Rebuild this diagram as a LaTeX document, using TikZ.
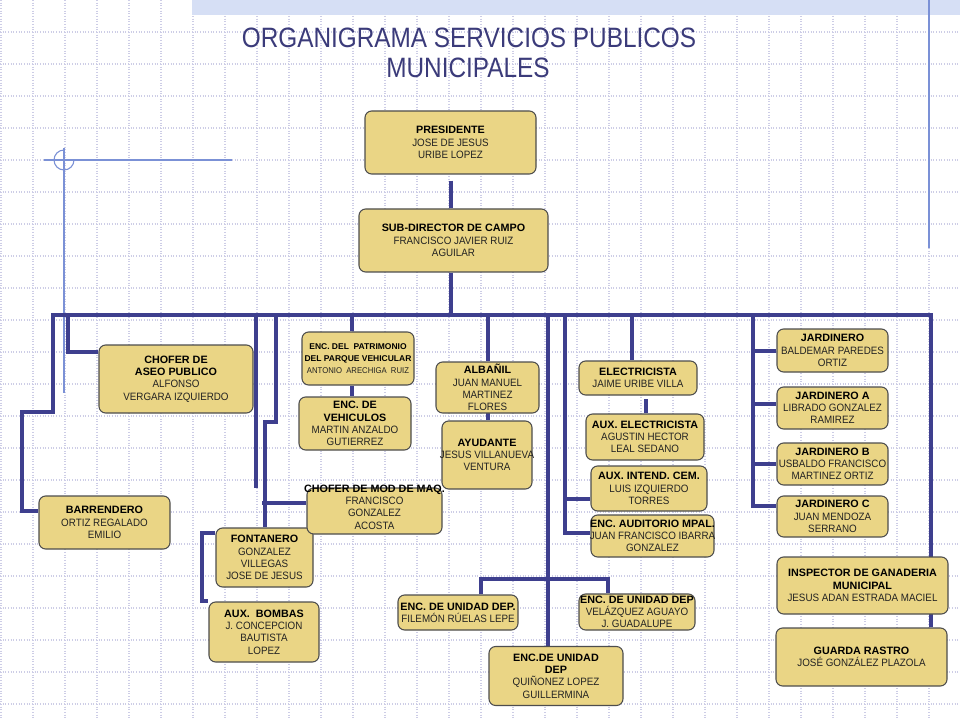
\documentclass[tikz,border=0pt]{standalone}
\usepackage{fontspec}
\usetikzlibrary{backgrounds}
\setmainfont{Liberation Sans}[FakeStretch=0.92]
\newfontfamily\titlefont{Liberation Sans}[FakeStretch=0.87]
\newfontfamily\bfam{Liberation Sans}[FakeStretch=1.01]
\definecolor{linec}{HTML}{3E3F8E}
\definecolor{boxfill}{HTML}{EAD585}
\definecolor{boxdraw}{HTML}{4D4D4D}
\definecolor{gridc}{HTML}{CDCDE6}
\definecolor{titlec}{HTML}{3B3B7A}
\definecolor{decoc}{HTML}{7B91D6}
\definecolor{bandc}{HTML}{D6DFF5}
\definecolor{namec}{HTML}{222222}
\tikzset{
  obox/.style={draw=boxdraw, line width=0.8pt, fill=boxfill, rounded corners=5pt, inner sep=0pt},
  otext/.style={align=center, inner sep=0pt, font=\fontsize{8}{9.2}\selectfont, text=namec},
  conn/.style={draw=linec, line width=3pt},
  gridline/.style={draw=gridc, line width=0.8pt, dash pattern=on 0.8pt off 1.2pt},
  deco/.style={draw=decoc, line width=0.8pt},
  ttl/.style={anchor=base, text=titlec, font=\titlefont\fontsize{21}{23}\selectfont, inner sep=0pt},
}
\newcommand{\obox}[6][0]{%
  \node[obox, minimum width=#4*0.75pt, minimum height=#5*0.75pt] (#2) at (#3) {};
  \node[otext, yshift=-#1*0.75pt] (#2-t) at (#2.center) {#6};}
\newcommand{\hb}[1]{{\bfam\bfseries\color{black}#1}}
\newcommand{\smtxt}[1]{\makebox[80pt]{\fontsize{6.3}{8.6}\selectfont #1}}
\begin{document}
\begin{tikzpicture}[x=0.75pt, y=-0.75pt]
\useasboundingbox (0,0) rectangle (960,720);
% title
\node[ttl] (title1) at (469,48) {ORGANIGRAMA SERVICIOS PUBLICOS};
\node[ttl] (title2) at (468,78) {MUNICIPALES};

% boxes
\obox{pres}{450.5,142.5}{171}{63}{\hb{PRESIDENTE}\\JOSE DE JESUS\\URIBE LOPEZ}
\obox{sub}{453.5,240.5}{189}{63}{\hb{SUB-DIRECTOR DE CAMPO}\\FRANCISCO JAVIER RUIZ\\AGUILAR}
\obox{barr}{104.5,522.5}{131}{53}{\hb{BARRENDERO}\\ORTIZ REGALADO\\EMILIO}
\obox{aseo}{176,379}{154}{68}{\hb{CHOFER DE}\\\hb{ASEO PUBLICO}\\ALFONSO\\VERGARA IZQUIERDO}
\obox{fonta}{264.5,557.5}{97}{59}{\hb{FONTANERO}\\GONZALEZ\\VILLEGAS\\JOSE DE JESUS}
\obox{bombas}{264,632}{110}{60}{\hb{AUX.\ \ BOMBAS}\\J. CONCEPCION\\BAUTISTA\\LOPEZ}
\obox[-4]{maq}{374.5,511}{135}{46}{\makebox[90pt]{\hb{CHOFER DE MOD DE MAQ.}}\\FRANCISCO\\GONZALEZ\\ACOSTA}
\obox{patr}{358,358.5}{112}{53}{\smtxt{\hb{ENC. DEL\ \ PATRIMONIO}}\\\smtxt{\hb{DEL PARQUE VEHICULAR}}\\\smtxt{ANTONIO\ \ ARECHIGA\ \ RUIZ}}
\obox{veh}{355,423.5}{112}{53}{\hb{ENC. DE}\\\hb{VEHICULOS}\\MARTIN ANZALDO\\GUTIERREZ}
\obox{alb}{487.5,387.5}{103}{51}{\hb{ALBAÑIL}\\JUAN MANUEL\\MARTINEZ\\FLORES}
\obox{ayu}{487,455}{90}{68}{\hb{AYUDANTE}\\\makebox[60pt]{JESUS VILLANUEVA}\\VENTURA}
\obox{elec}{638,378}{118}{34}{\hb{ELECTRICISTA}\\JAIME URIBE VILLA}
\obox{auxe}{645,437}{118}{46}{\hb{AUX. ELECTRICISTA}\\AGUSTIN HECTOR\\LEAL SEDANO}
\obox{intend}{649,488.5}{116}{45}{\hb{AUX. INTEND. CEM.}\\LUIS IZQUIERDO\\TORRES}
\obox{audit}{652.5,536}{123}{42}{\makebox[85pt]{\hb{ENC. AUDITORIO MPAL.}}\\\makebox[85pt]{JUAN FRANCISCO IBARRA}\\GONZALEZ}
\obox{file}{458,612.5}{120}{35}{\makebox[85pt]{\hb{ENC. DE UNIDAD DEP.}}\\FILEMÓN RÚELAS LEPE}
\obox{velaz}{637,612}{116}{36}{\makebox[80pt]{\hb{ENC. DE UNIDAD DEP}}\\VELÁZQUEZ AGUAYO\\J. GUADALUPE}
\obox{quin}{556,676}{134}{59}{\hb{ENC.DE UNIDAD}\\\hb{DEP}\\QUIÑONEZ LOPEZ\\GUILLERMINA}
\obox{jard}{832.5,350.5}{111}{43}{\hb{JARDINERO}\\BALDEMAR PAREDES\\ORTIZ}
\obox{jardA}{832.5,408}{111}{42}{\hb{JARDINERO A}\\LIBRADO GONZALEZ\\RAMIREZ}
\obox{jardB}{832.5,464}{111}{42}{\hb{JARDINERO B}\\\makebox[80pt]{USBALDO FRANCISCO}\\MARTINEZ ORTIZ}
\obox{jardC}{832.5,516.5}{111}{41}{\hb{JARDINERO C}\\JUAN MENDOZA\\SERRANO}
\obox{insp}{862.5,585.5}{171}{57}{\hb{INSPECTOR DE GANADERIA}\\\hb{MUNICIPAL}\\JESUS ADAN ESTRADA MACIEL}
\obox{guarda}{861.5,657}{171}{58}{\hb{GUARDA RASTRO}\\JOSÉ GONZÁLEZ PLAZOLA}

\begin{scope}[on background layer]
\fill[white] (0,0) rectangle (960,720);
% grid
\foreach \k in {0,...,30} { \draw[gridline] (32*\k+1,0) -- (32*\k+1,720); }
\foreach \k in {1,...,22} { \draw[gridline] (0,32*\k) -- (960,32*\k); }
% top band
\fill[bandc] (192,0) rectangle (960,15);
% decorations
\draw[deco] (929,0) -- (929,248);
\draw[deco] (44,160) -- (232,160);
\draw[deco] (64,148) -- (64,393);
\draw[deco] (64,150) arc[start angle=90, end angle=360, radius=7.5pt];

% connectors
\coordinate (busL) at (53,315);
\coordinate (busR) at (931,315);
\coordinate (deadend) at (256,488);
\draw[conn] ([yshift=-4.5pt]pres.south -| 451,0) -- (451,0 |- sub.north);
\draw[conn] (451,0 |- sub.south) -- (451,0 |- busL);
\draw[conn, line cap=rect] (busL) -- (busR);
% far left
\draw[conn] (busL) -- (53,412) -- (22,412) |- (barr.west |- 0,511);
\draw[conn] (68,315) |- (aseo.west |- 0,352);
\draw[conn] (256,315) -- (deadend);
\draw[conn] (276,315) -- (276,422) -| (fonta.north);
\draw[conn] (262,503) -- (maq.west |- 0,503);
\draw[conn] (fonta.west |- 0,533) -- (202,533) |- (bombas.west |- 0,601);
% patrimonio
\draw[conn] (352,315) -- (352,0 |- patr.north);
\draw[conn] (352,0 |- patr.south) -- (352,0 |- veh.north);
% albanil
\draw[conn] (488,315) -- (488,0 |- alb.north);
\draw[conn] (488,405) -- (488,0 |- ayu.north);
% unidad dep
\draw[conn] (548,315) -- (548,0 |- quin.north);
\draw[conn] (481,0 |- file.north) -- (481,579) -- (608,579) -- (608,0 |- velaz.north);
% auditorio
\draw[conn] (565,315) |- (audit.west |- 0,533);
\draw[conn] (565,499) -- (intend.west |- 0,499);
% electricista
\draw[conn] (632,315) -- (632,0 |- elec.north);
\draw[conn] (646,399) -- (646,0 |- auxe.north);
% jardineros
\draw[conn] (753,315) |- (jardC.west |- 0,506);
\draw[conn] (753,351) -- (jard.west |- 0,351);
\draw[conn] (753,404) -- (jardA.west |- 0,404);
\draw[conn] (753,464) -- (jardB.west);
% right end
\draw[conn] (busR) -- (931,0 |- guarda.north);
\end{scope}
\end{tikzpicture}
\end{document}
